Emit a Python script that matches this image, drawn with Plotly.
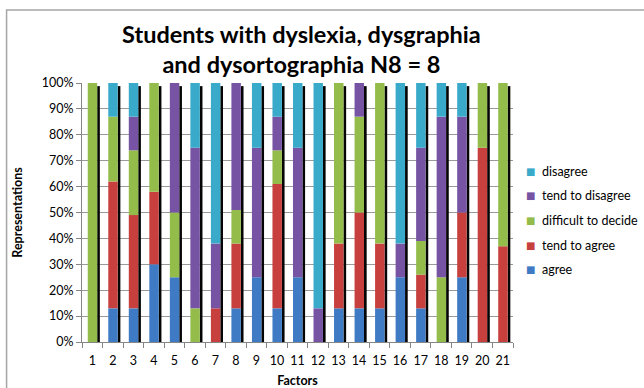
import plotly.graph_objects as go

# Survey factors 1..21 (percent of respondents per answer)
factors = [str(i) for i in range(1, 22)]
agree = [0, 13, 13, 30, 25, 0, 0, 13, 25, 13, 25, 0, 13, 13, 13, 25, 13, 0, 25, 0, 0]
tend_to_agree = [0, 49, 36, 28, 0, 0, 13, 25, 0, 48, 0, 0, 25, 37, 25, 0, 13, 0, 25, 75, 37]
difficult_to_decide = [100, 25, 25, 42, 25, 13, 0, 13, 0, 13, 0, 0, 62, 37, 62, 0, 13, 25, 0, 25, 63]
tend_to_disagree = [0, 0, 13, 0, 50, 62, 25, 49, 50, 13, 50, 13, 0, 13, 0, 13, 36, 62, 37, 0, 0]
disagree = [0, 13, 13, 0, 0, 25, 62, 0, 25, 13, 25, 87, 0, 0, 0, 62, 25, 13, 13, 0, 0]

series = [
    ("agree", agree, "#3F7BC4"),
    ("tend to agree", tend_to_agree, "#C8403E"),
    ("difficult to decide", difficult_to_decide, "#93BC4A"),
    ("tend to disagree", tend_to_disagree, "#7653A3"),
    ("disagree", disagree, "#3AAACB"),
]

FONT = "Lato"
BAR_OFFSET = -0.22
BAR_WIDTH = 0.46

fig = go.Figure()

# Dark drop shadow behind each stacked column
totals = [sum(vals) for vals in zip(*[s[1] for s in series])]
fig.add_trace(go.Bar(
    x=factors, y=[t - 1.2 for t in totals], base=0,
    offset=BAR_OFFSET + BAR_WIDTH, width=0.13,
    marker=dict(color="#050505", line=dict(width=0)),
    showlegend=False, hoverinfo="skip",
))

# Stacked segments with explicit bases
running = [0] * len(factors)
for name, vals, color in series:
    fig.add_trace(go.Bar(
        x=factors, y=vals, base=list(running),
        offset=BAR_OFFSET, width=BAR_WIDTH,
        marker=dict(color=color, line=dict(width=0)),
        name=name, showlegend=False,
    ))
    running = [r + v for r, v in zip(running, vals)]

# Key on the right: last answer on top, small square swatch before each label
key = []
LEGEND_TOP = 0.66
LEGEND_STEP = 0.0955
for i, (name, vals, color) in enumerate(reversed(series)):
    yk = LEGEND_TOP - i * LEGEND_STEP
    key.append(dict(
        xref="paper", yref="paper", x=1.041, y=yk,
        xanchor="center", yanchor="middle", showarrow=False,
        text="■", font=dict(family="DejaVu Sans", size=10, color=color),
    ))
    key.append(dict(
        xref="paper", yref="paper", x=1.0625, y=yk,
        xanchor="left", yanchor="middle", showarrow=False,
        text=name, font=dict(family=FONT, size=12.5, color="#000000"),
    ))

fig.update_layout(
    width=644, height=388,
    margin=dict(l=81.5, r=131, t=83, b=46.3),
    barmode="overlay",
    plot_bgcolor="white", paper_bgcolor="white",
    font=dict(family=FONT, size=12.5, color="#000000"),
    title=dict(
        text="Students with dyslexia, dysgraphia<br>and dysortographia N8 = 8",
        x=0.468, xanchor="center", y=0.890, yanchor="middle",
        font=dict(family=FONT, size=23.5, color="#000000", weight="bold"),
    ),
    showlegend=False,
    annotations=key,
    shapes=[dict(
        type="rect", xref="paper", yref="paper",
        x0=-0.175, x1=1.6, y0=-0.6, y1=1.282,
        line=dict(color="#A6A6A6", width=1.5), layer="below",
    )],
)

fig.update_xaxes(
    type="category", tickson="boundaries", tickangle=0, automargin=False,
    ticks="outside", ticklen=5, tickcolor="#868686",
    showline=True, linecolor="#868686", linewidth=1,
    showgrid=False, ticklabelstandoff=7,
    title=dict(text="Factors", font=dict(family=FONT, size=12.5, weight="bold"), standoff=13),
    tickfont=dict(family=FONT, size=12.5),
)
fig.update_yaxes(
    range=[0, 100], dtick=10, ticksuffix="%", automargin=False,
    ticks="outside", ticklen=5, tickcolor="#868686",
    showline=True, linecolor="#868686", linewidth=1,
    showgrid=True, gridcolor="#9A9A9A", gridwidth=1,
    title=dict(text="Representations", font=dict(family=FONT, size=12.5, weight="bold"), standoff=16),
    tickfont=dict(family=FONT, size=12.5),
)

fig.write_html("out.html")
